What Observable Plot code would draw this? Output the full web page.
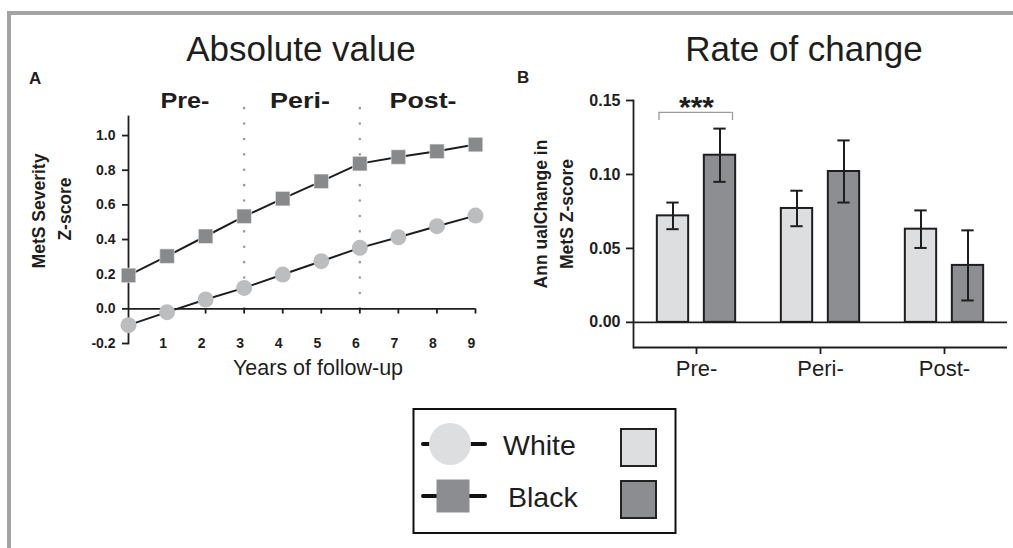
<!DOCTYPE html>
<html><head><meta charset="utf-8">
<script src="https://cdn.jsdelivr.net/npm/d3@7"></script>
<script src="https://cdn.jsdelivr.net/npm/@observablehq/plot@0.6"></script>
<style>
html,body{margin:0;padding:0;background:#fff;}
#root{position:relative;width:1013px;height:548px;overflow:hidden;background:#fff;font-family:"Liberation Sans",Arial,Helvetica,sans-serif;}
#frame{position:absolute;left:7px;top:11px;width:1100px;height:600px;border-top:4px solid #a3a3a3;border-left:4px solid #a3a3a3;}
#left{position:absolute;left:0;top:0;}
#right{position:absolute;left:500px;top:0;}
#overlay{position:absolute;left:0;top:0;overflow:visible;}
svg{overflow:visible}
</style></head><body>
<div id="root"><div id="frame"></div><div id="left"></div><div id="right"></div><svg id="overlay" width="1013" height="548"></svg></div>
<script>
// ---------- data ----------
const years = [0, 1, 2, 3, 4, 5, 6, 7, 8, 9];
const whiteAbs = [-0.094, -0.019, 0.054, 0.121, 0.198, 0.275, 0.352, 0.413, 0.477, 0.538];
const blackAbs = [0.193, 0.304, 0.419, 0.534, 0.636, 0.736, 0.838, 0.876, 0.909, 0.948];
const yTicksAbs = [-0.2, 0.0, 0.2, 0.4, 0.6, 0.8, 1.0];
const xTickLabels = [1, 2, 3, 4, 5, 6, 7, 8, 9];
const phaseBounds = [3, 6];
const phaseNames = ["Pre-", "Peri-", "Post-"];

const periods = ["Pre-", "Peri-", "Post-"];
const whiteRate = [0.072, 0.077, 0.063];
const whiteErr = [0.009, 0.012, 0.0127];
const blackRate = [0.113, 0.102, 0.0385];
const blackErr = [0.018, 0.021, 0.0237];
const yTicksRate = [0.00, 0.05, 0.10, 0.15];
const sigMarks = [{period: "Pre-", label: "***"}];

const seriesNames = ["White", "Black"];
const titles = ["Absolute value", "Rate of change"];
const panelLetters = ["A", "B"];
const yLabelAbs = ["MetS Severity", "Z-score"];
const yLabelRate = ["Ann ualChange in", "MetS Z-score"];
const xLabelAbs = "Years of follow-up";

// ---------- styles ----------
const FONT = '"Liberation Sans", Arial, Helvetica, sans-serif';
const ink = "#1e1e1e";
const cWhiteDot = "#bcbdbf", cBlackDot = "#88898b";
const cWhiteBar = "#dddee0", cBlackBar = "#8d8e91";
const cLegendWhite = "#dddee0", cLegendBlack = "#8c8d90";

// ---------- left panel ----------
const whiteAbsRows = years.map((yr, i) => ({year: yr, value: whiteAbs[i], race: seriesNames[0]}));
const blackAbsRows = years.map((yr, i) => ({year: yr, value: blackAbs[i], race: seriesNames[1]}));
const yDomAbs = [-0.2, 1.11];

const left = Plot.plot({
  width: 500, height: 400,
  marginLeft: 128, marginRight: 25, marginTop: 116, marginBottom: 57,
  style: {fontFamily: FONT, color: ink, background: "transparent", overflow: "visible"},
  x: {domain: [0, 9], axis: null},
  y: {domain: yDomAbs, axis: null},
  marks: [
    Plot.ruleX(phaseBounds, {x: d => d, y1: 0, y2: 1.22, stroke: "#9a9a9a", strokeWidth: 2.6, strokeDasharray: "0 15.4", strokeLinecap: "round"}),
    Plot.frame({anchor: "left", strokeWidth: 1.8, stroke: ink}),
    Plot.ruleY([0], {strokeWidth: 1.8, stroke: ink}),
    Plot.axisY({ticks: yTicksAbs, tickFormat: d => d.toFixed(1), tickSize: 6, tickPadding: 7, fontSize: 14, fontWeight: "bold", strokeWidth: 1.8, label: null}),
    Plot.ruleX(xTickLabels, {x: d => d, y1: 0, y2: -0.03, strokeWidth: 1.8, stroke: ink}),
    Plot.text(xTickLabels, {x: d => d, y: yDomAbs[0], text: d => String(d), dx: -4, fontSize: 14, fontWeight: "bold", fill: ink}),
    Plot.line(whiteAbsRows, {x: "year", y: "value", stroke: ink, strokeWidth: 2}),
    Plot.line(blackAbsRows, {x: "year", y: "value", stroke: ink, strokeWidth: 2}),
    Plot.dot(whiteAbsRows, {x: "year", y: "value", r: 8, fill: cWhiteDot}),
    Plot.dot(blackAbsRows, {x: "year", y: "value", r: 8.2, symbol: "square", fill: cBlackDot, stroke: "#f2f2f2", strokeWidth: 0.6})
  ]
});
document.getElementById("left").appendChild(left);

// ---------- right panel ----------
const W = 513, mL = 133, mR = 6;
const step = (W - mL - mR) / periods.length;
const barW = 32, off = 23.5, capW = 13;
function insets(center, w) {
  const l = step / 2 + center - w / 2;
  return {insetLeft: l, insetRight: step - l - w};
}
const whiteRows = periods.map((p, i) => ({period: p, value: whiteRate[i], err: whiteErr[i]}));
const blackRows = periods.map((p, i) => ({period: p, value: blackRate[i], err: blackErr[i]}));
const yDomRate = [-0.017, 0.15];
const sigRows = sigMarks.map(s => {
  const i = periods.indexOf(s.period);
  const top = Math.max(whiteRate[i] + whiteErr[i], blackRate[i] + blackErr[i]);
  return {...s, y: top + 0.011};
});

function errMarks(rows, center) {
  return [
    Plot.ruleX(rows, {x: "period", y1: d => d.value - d.err, y2: d => d.value + d.err, dx: center, stroke: ink, strokeWidth: 2}),
    Plot.tickY(rows, {x: "period", y: d => d.value + d.err, ...insets(center, capW), stroke: ink, strokeWidth: 2}),
    Plot.tickY(rows, {x: "period", y: d => d.value - d.err, ...insets(center, capW), stroke: ink, strokeWidth: 2})
  ];
}

const right = Plot.plot({
  width: W, height: 400,
  marginLeft: mL, marginRight: mR, marginTop: 100, marginBottom: 53,
  style: {fontFamily: FONT, color: ink, background: "transparent", overflow: "visible"},
  x: {domain: periods, type: "band", padding: 0, axis: null},
  y: {domain: yDomRate, axis: null},
  marks: [
    Plot.barY(whiteRows, {x: "period", y1: 0, y2: "value", fill: cWhiteBar, stroke: ink, strokeWidth: 2, ...insets(-off, barW)}),
    Plot.barY(blackRows, {x: "period", y1: 0, y2: "value", fill: cBlackBar, stroke: ink, strokeWidth: 2, ...insets(off, barW)}),
    Plot.ruleY([0], {strokeWidth: 1.8, stroke: ink}),
    Plot.ruleY([yDomRate[0]], {strokeWidth: 1.8, stroke: ink}),
    Plot.frame({anchor: "left", strokeWidth: 1.8, stroke: ink}),
    Plot.axisY({ticks: yTicksRate, tickFormat: d => d.toFixed(2), tickSize: 7, tickPadding: 6, fontSize: 16, fontWeight: "bold", strokeWidth: 1.8, label: null}),
    Plot.axisX({tickSize: 7, tickPadding: 6, fontSize: 22, strokeWidth: 1.8, label: null}),
    ...errMarks(whiteRows, -off),
    ...errMarks(blackRows, off),
    Plot.tickY(sigRows, {x: "period", y: "y", ...insets(-0.75, 73.5), stroke: "#9a9a9a", strokeWidth: 1.3}),
    Plot.ruleX(sigRows, {x: "period", y1: d => d.y - 0.0055, y2: "y", dx: -37.5, stroke: "#9a9a9a", strokeWidth: 1.3}),
    Plot.ruleX(sigRows, {x: "period", y1: d => d.y - 0.0055, y2: "y", dx: 36, stroke: "#9a9a9a", strokeWidth: 1.3}),
    Plot.text(sigRows, {x: "period", y: "y", text: "label", dy: -5, fontSize: 30, fontWeight: "bold", fill: ink})
  ]
});
document.getElementById("right").appendChild(right);

// ---------- overlay text & legend ----------
const ov = d3.select("#overlay").style("font-family", FONT);
function txt(x, y, s, opts = {}) {
  const t = ov.append("text").attr("x", x).attr("y", y).text(s)
    .attr("fill", ink).attr("font-size", opts.size || 14)
    .attr("font-weight", opts.weight || "normal")
    .attr("text-anchor", opts.anchor || "middle");
  if (opts.len) t.attr("textLength", opts.len).attr("lengthAdjust", "spacingAndGlyphs");
  if (opts.rotate) t.attr("transform", `rotate(-90 ${x} ${y})`);
  return t;
}
txt(301, 61, titles[0], {size: 35});
txt(804, 61, titles[1], {size: 35});
txt(29, 84, panelLetters[0], {size: 17, weight: "bold", anchor: "start"});
txt(517, 83, panelLetters[1], {size: 17, weight: "bold", anchor: "start"});
const phaseX = [185, 300, 423], phaseLen = [49, 60, 67];
phaseNames.forEach((n, i) => txt(phaseX[i], 108, n, {size: 21.5, weight: "bold", len: phaseLen[i]}));
txt(318, 375, xLabelAbs, {size: 21.5});
txt(45, 211, yLabelAbs[0], {size: 17.5, weight: "bold", rotate: true});
txt(71, 209, yLabelAbs[1], {size: 17.5, weight: "bold", rotate: true});
txt(547, 214, yLabelRate[0], {size: 17.5, weight: "bold", rotate: true});
txt(573, 214, yLabelRate[1], {size: 17.5, weight: "bold", rotate: true});

// legend
const lg = ov.append("g");
lg.append("rect").attr("x", 413.5).attr("y", 409).attr("width", 262).attr("height", 124)
  .attr("fill", "#fff").attr("stroke", "#111").attr("stroke-width", 2);
const rowsY = [444, 496];
const legendFills = [cLegendWhite, cLegendBlack];
seriesNames.forEach((name, i) => {
  const cy = rowsY[i];
  lg.append("line").attr("x1", 423).attr("x2", 485).attr("y1", cy).attr("y2", cy)
    .attr("stroke", "#111").attr("stroke-width", 4).attr("stroke-linecap", "round");
  if (i === 0) {
    lg.append("circle").attr("cx", 450).attr("cy", cy).attr("r", 21).attr("fill", legendFills[i]);
  } else {
    lg.append("rect").attr("x", 436.5).attr("y", cy - 16.5).attr("width", 33).attr("height", 33).attr("fill", legendFills[i]);
  }
  lg.append("text").attr("x", i === 0 ? 503 : 508).attr("y", cy + 10.5).text(name)
    .attr("font-size", 28.5).attr("fill", ink);
  lg.append("rect").attr("x", 621).attr("y", cy - 15).attr("width", 35).attr("height", 37)
    .attr("fill", legendFills[i]).attr("stroke", "#222").attr("stroke-width", 2);
});
</script>
</body></html>
